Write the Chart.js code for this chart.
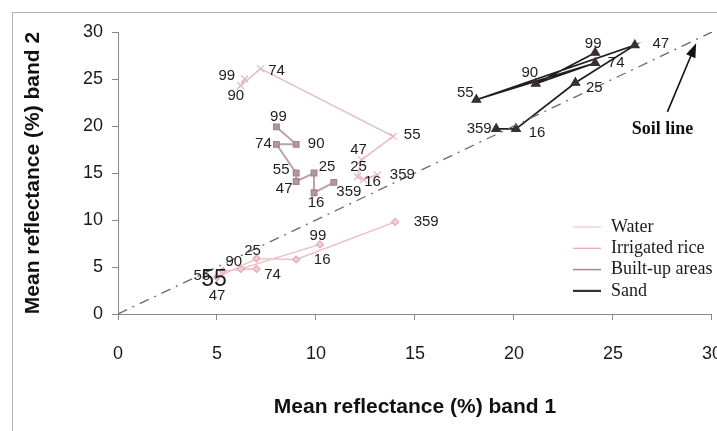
<!DOCTYPE html>
<html><head><meta charset="utf-8">
<script src="https://cdn.jsdelivr.net/npm/chart.js@4.4.1/dist/chart.umd.min.js"></script>
<style>
html,body{margin:0;padding:0;background:#fff;}
#wrap{position:relative;width:717px;height:431px;overflow:hidden;background:#fff;}
#frame{position:absolute;left:12px;top:12px;width:800px;height:500px;border-left:1px solid #b4b4b4;border-top:1px solid #b4b4b4;pointer-events:none;}
canvas{position:absolute;left:0;top:0;}
</style></head><body>
<div id="wrap"><canvas id="c" width="745" height="431" style="width:745px;height:431px"></canvas><div id="frame"></div></div>
<script>
// Day-of-year labels (series order)
const categories = ['359','16','25','47','55','74','90','99'];
// Band 1 (x) and band 2 (y) mean reflectance, %
const waterX = [14.0, 9.0, 7.0, 5.0, 5.3, 7.0, 6.2, 10.2];
const waterY = [9.8, 5.8, 5.9, 3.9, 4.6, 4.8, 4.8, 7.4];
const riceX  = [13.1, 12.4, 12.1, 12.3, 13.9, 7.2, 6.2, 6.4];
const riceY  = [14.8, 14.3, 14.6, 16.4, 18.9, 26.1, 24.3, 25.0];
const builtX = [10.9, 9.9, 9.9, 9.0, 9.0, 8.0, 9.0, 8.0];
const builtY = [14.0, 12.9, 15.0, 14.1, 15.0, 18.05, 18.05, 19.9];
const sandX  = [19.1, 20.1, 23.1, 26.1, 18.1, 24.1, 21.1, 24.1];
const sandY  = [19.7, 19.7, 24.6, 28.6, 22.8, 26.7, 24.5, 27.8];
// Soil line end points
const soilX = [0, 30];
const soilY = [0, 30];
// Axis ticks
const xTicks = [0, 5, 10, 15, 20, 25, 30];
const yTicks = [0, 5, 10, 15, 20, 25, 30];
const seriesNames = ['Water', 'Irrigated rice', 'Built-up areas', 'Sand'];

// label offsets (pixels from marker) -- styling only
const waterOff = [[31,0],[26,0],[-4,-8],[0,19],[-9,9,23],[16,6],[-7,-7],[-2,-9]];
const riceOff  = [[25,0],[9,2],[1,-10],[-3,-10],[19,-1],[16,2],[-5,10],[-18,-3]];
const builtOff = [[15,9],[2,10],[13,-6],[-12,7],[-15,-3],[-13,0],[20,0],[2,-10]];
const sandOff  = [[-17,0],[21,4],[19,5],[26,-1],[-11,-7],[21,0],[-6,-11],[-2,-9]];

function pts(xs, ys){ return xs.map((x,i)=>({x:x, y:ys[i]})); }

const series = [
  {name:seriesNames[0], data:pts(waterX,waterY), off:waterOff, line:'#efbcc6', lw:1.3, style:'rectRot', r:3.5, fill:'#f3ccd4', border:'#e6aab6', legend:'#ecc8ce', llw:1.2},
  {name:seriesNames[1], data:pts(riceX,riceY), off:riceOff, line:'#e4c0c5', lw:1.6, style:'crossRot', r:5, fill:'#e6b6bd', border:'#e6b6bd', legend:'#e2a8b0', llw:1.2},
  {name:seriesNames[2], data:pts(builtX,builtY), off:builtOff, line:'#c0a2a8', lw:2, style:'rect', r:4, fill:'#b4969e', border:'#a0868c', legend:'#a8888f', llw:1.5},
  {name:seriesNames[3], data:pts(sandX,sandY), off:sandOff, line:'#221e1e', lw:1.7, style:'triangle', r:5, fill:'#3a2f2f', border:'#3a2f2f', legend:'#333', llw:2.2}
];

const datasets = series.map(s=>({
  label:s.name, data:s.data, showLine:true, borderColor:s.line, borderWidth:s.lw,
  pointStyle:s.style, pointRadius:s.r, pointBackgroundColor:s.fill, pointBorderColor:s.border,
  pointBorderWidth:1.2, tension:0, fill:false
}));
datasets.unshift({
  label:'Soil line', data:pts(soilX,soilY), showLine:true, borderColor:'#6a6a6a', borderWidth:1.3,
  borderDash:[10,6,2,6], pointRadius:0, fill:false
});

const SANS = '"Liberation Sans", Arial, sans-serif';
const SERIF = '"Liberation Serif", "Times New Roman", serif';

const overlay = {
  id:'overlay',
  afterDatasetsDraw(chart){
    const ctx = chart.ctx;
    const xs = chart.scales.x, ys = chart.scales.y;
    ctx.save();
    ctx.fillStyle = '#1e1e1e';
    ctx.textAlign = 'center';
    ctx.textBaseline = 'middle';
    series.forEach((s,i)=>{
      const meta = chart.getDatasetMeta(i+1);
      meta.data.forEach((pt,j)=>{
        const o = s.off[j];
        ctx.font = (o[2]||15) + 'px ' + SANS;
        ctx.fillText(categories[j], pt.x + o[0], pt.y + o[1]);
      });
    });
    // second overlapping "55" near water cluster
    const w55 = chart.getDatasetMeta(1).data[4];
    ctx.font = '15px ' + SANS;
    ctx.fillText(categories[4], w55.x - 21, w55.y + 5);

    // Soil line annotation arrow
    const tx = xs.getPixelForValue(29.2), ty = ys.getPixelForValue(28.8);
    const sx = xs.getPixelForValue(27.75), sy = ys.getPixelForValue(21.5);
    const ang = Math.atan2(ty - sy, tx - sx);
    ctx.strokeStyle = '#111'; ctx.lineWidth = 1.6;
    ctx.beginPath(); ctx.moveTo(sx, sy);
    ctx.lineTo(tx - 10*Math.cos(ang), ty - 10*Math.sin(ang)); ctx.stroke();
    ctx.fillStyle = '#111';
    ctx.beginPath();
    ctx.moveTo(tx, ty);
    ctx.lineTo(tx - 14*Math.cos(ang) + 5*Math.sin(ang), ty - 14*Math.sin(ang) - 5*Math.cos(ang));
    ctx.lineTo(tx - 14*Math.cos(ang) - 5*Math.sin(ang), ty - 14*Math.sin(ang) + 5*Math.cos(ang));
    ctx.closePath(); ctx.fill();
    ctx.font = 'bold 18px ' + SERIF;
    ctx.fillText('Soil line', xs.getPixelForValue(27.5), ys.getPixelForValue(19.6));

    // Legend
    ctx.textAlign = 'left';
    ctx.font = '18px ' + SERIF;
    series.forEach((s,k)=>{
      const y = 227 + k*21.3;
      ctx.strokeStyle = s.legend; ctx.lineWidth = s.llw;
      ctx.beginPath(); ctx.moveTo(573, y); ctx.lineTo(601, y); ctx.stroke();
      ctx.fillStyle = '#1a1a1a';
      ctx.fillText(s.name, 611, y);
    });
    ctx.restore();
  }
};

new Chart(document.getElementById('c'), {
  type:'scatter',
  data:{datasets},
  options:{
    responsive:false, animation:false, devicePixelRatio:1,
    layout:{padding:{left:0, top:32, right:29, bottom:0}},
    plugins:{legend:{display:false}, tooltip:{enabled:false}},
    scales:{
      x:{
        type:'linear', min:0, max:30,
        afterBuildTicks:(s)=>{ s.ticks = xTicks.map(v=>({value:v})); },
        afterFit:(s)=>{ s.height = 117; },
        ticks:{font:{size:18, family:SANS}, color:'#1a1a1a', padding:23, maxRotation:0},
        grid:{drawOnChartArea:false, drawTicks:true, tickLength:6, color:'#8a8a8a'},
        border:{color:'#8a8a8a', width:1},
        title:{display:true, text:'Mean reflectance (%) band 1', font:{size:21, weight:'bold', family:SANS}, color:'#111', padding:{top:0,bottom:11}}
      },
      y:{
        type:'linear', min:0, max:30,
        afterBuildTicks:(s)=>{ s.ticks = yTicks.map(v=>({value:v})); },
        afterFit:(s)=>{ s.width = 118; },
        ticks:{font:{size:18, family:SANS}, color:'#1a1a1a', padding:9},
        grid:{drawOnChartArea:false, drawTicks:true, tickLength:6, color:'#8a8a8a'},
        border:{color:'#8a8a8a', width:1},
        title:{display:true, text:'Mean reflectance (%) band 2', font:{size:21, weight:'bold', family:SANS}, color:'#111', padding:{top:21,bottom:0}}
      }
    }
  },
  plugins:[overlay]
});
</script>
</body></html>
